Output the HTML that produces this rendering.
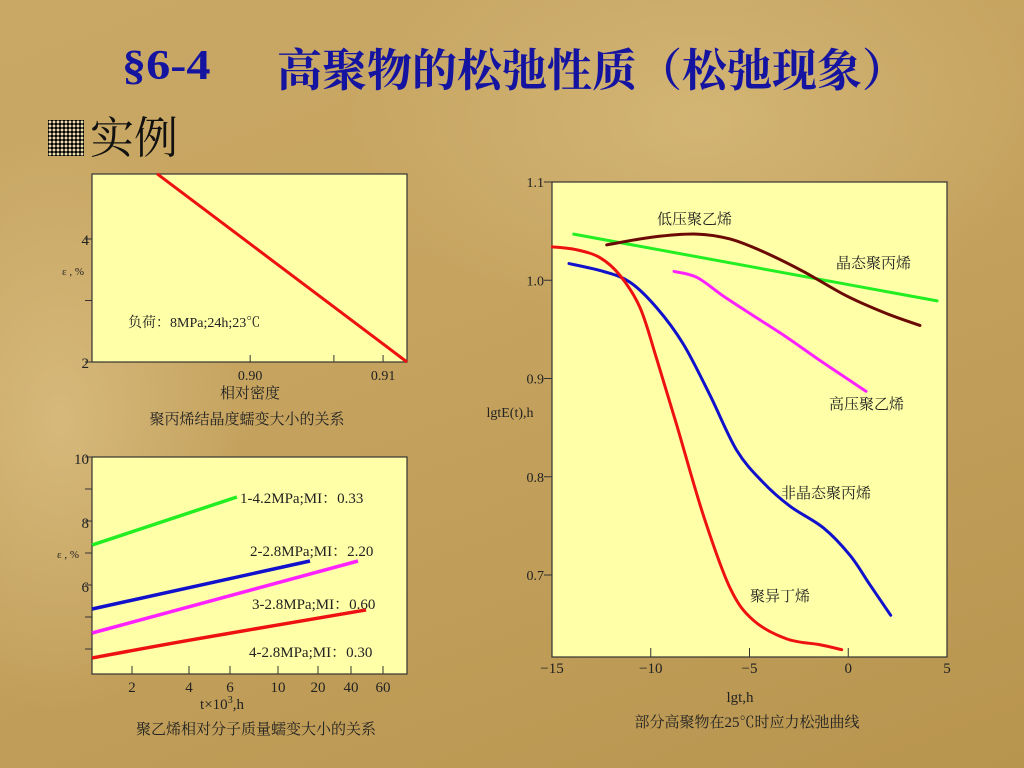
<!DOCTYPE html>
<html><head><meta charset="utf-8"><style>
html,body{margin:0;padding:0;}
body{width:1024px;height:768px;overflow:hidden;position:relative;
background:radial-gradient(ellipse 260px 420px at 60px 420px,rgba(230,205,150,0.5),rgba(0,0,0,0) 70%),
radial-gradient(ellipse 500px 300px at 700px 120px,rgba(225,200,140,0.45),rgba(0,0,0,0) 70%),
linear-gradient(160deg,#c9a865 0%,#c6a460 40%,#b8954f 100%);
font-family:"Liberation Serif","Noto Serif CJK SC",serif;}
.tt{position:absolute;top:36px;font-size:45px;font-weight:bold;color:#1414a0;white-space:nowrap;font-family:"Liberation Serif","Noto Serif CJK SC",serif;}
#sub{position:absolute;left:48px;top:102px;font-size:44px;color:#111;white-space:nowrap;}
#bullet{display:inline-block;width:36px;height:36px;vertical-align:-3px;margin-right:6px;
background-color:#000;background-image:radial-gradient(circle,#f0e0b0 1.3px,transparent 1.6px);background-size:4px 4px;}
svg{position:absolute;left:0;top:0;}
svg text{font-family:"Liberation Serif","Noto Serif CJK SC",serif;fill:#222;}
</style></head><body>
<div class="tt" style="left:122px;font-size:42px;top:42px;transform:scaleX(1.15);transform-origin:left">§6-4</div>
<div class="tt" style="left:277px;top:34px">高聚物的松弛性质（松弛现象）</div>
<div id="sub"><span id="bullet"></span>实例</div>
<svg id="svg" width="1024" height="768"></svg>
<script>
// ---------- Chart 1: PP density vs creep ----------
const c1Density=[0.8930,0.9118];
const c1Strain=[5.06,2.0];
const c1YTicks=[2,3,4];
const c1YLabels=["2","","4"];
const c1XTicks=[0.90,0.9063,0.91];
const c1XLabels=["0.90","","0.91"];
// ---------- Chart 2: PE creep vs time ----------
const c2TickT=[2,4,6,10,20,40,60];
const c2TickLabels=["2","4","6","10","20","40","60"];
const c2YTicks=[4,5,6,7,8,9,10];
const c2YLabels=["","","6","","8","","10"];
const c2S1T=[1.23,6.46], c2S1E=[7.25,8.75];
const c2S2T=[1.23,17.4], c2S2E=[5.25,6.75];
const c2S3T=[1.23,43.7], c2S3E=[4.5,6.75];
const c2S4T=[1.23,4.05,48.4], c2S4E=[3.72,4.28,5.22];
// ---------- Chart 3: stress relaxation ----------
const c3XTicks=[-15,-10,-5,0,5];
const c3XLabels=["−15","−10","−5","0","5"];
const c3YTicks=[0.7,0.8,0.9,1.0,1.1];
const c3YLabels=["0.7","0.8","0.9","1.0","1.1"];
const greenX=[-13.9,4.5], greenY=[1.047,0.979];
const brownX=[-12.23,-9.87,-7.67,-5.99,-4.30,-2.28,-0.08,1.95,3.63];
const brownY=[1.036,1.044,1.047,1.042,1.029,1.009,0.984,0.966,0.954];
const redX=[-14.98,-13.75,-12.57,-11.56,-10.54,-9.70,-8.69,-7.34,-5.99,-4.81,-3.12,-1.43,-0.33];
const redY=[1.034,1.031,1.023,1.005,0.972,0.920,0.853,0.761,0.687,0.654,0.635,0.629,0.624];
const blueX=[-14.14,-12.40,-11.05,-9.70,-8.35,-7.00,-5.65,-4.30,-2.95,-1.26,0.09,1.10,2.15];
const blueY=[1.017,1.009,0.998,0.972,0.935,0.883,0.827,0.794,0.770,0.748,0.720,0.690,0.659];
const magX=[-8.82,-7.67,-6.33,-4.81,-3.12,-1.26,0.90];
const magY=[1.009,1.003,0.984,0.964,0.942,0.916,0.887];

const svg=document.getElementById('svg');
const NS='http://www.w3.org/2000/svg';
function mk(tag,attrs,parent){const e=document.createElementNS(NS,tag);for(const k in attrs)e.setAttribute(k,attrs[k]);(parent||svg).appendChild(e);return e;}
function txt(x,y,s,size,anchor){const t=mk('text',{x:x,y:y,'font-size':size,'text-anchor':anchor||'start'});t.textContent=s;return t;}
function smooth(pts){if(pts.length<3)return 'M'+pts.map(p=>p[0].toFixed(1)+','+p[1].toFixed(1)).join(' L');
 let d='M'+pts[0][0]+','+pts[0][1];
 for(let i=0;i<pts.length-1;i++){const p0=pts[i-1]||pts[i],p1=pts[i],p2=pts[i+1],p3=pts[i+2]||p2;
  const c1=[p1[0]+(p2[0]-p0[0])/6,p1[1]+(p2[1]-p0[1])/6],c2=[p2[0]-(p3[0]-p1[0])/6,p2[1]-(p3[1]-p1[1])/6];
  d+=' C'+c1.join(',')+' '+c2.join(',')+' '+p2.join(',');}
 return d;}
function box(x,y,w,h,name){const r=mk('rect',{x:x,y:y,width:w,height:h,fill:'#ffffa8',stroke:'#333','stroke-width':1.2});}

// Chart 1
(function(){
 const L=92,R=407,T=174,B=362;
 const x=v=>L+(v-0.8881)/(0.9118-0.8881)*(R-L);
 const y=v=>B-(v-2)*61.5;
 box(L,T,R-L,B-T,'density-chart-plot');
 c1YTicks.forEach((v,i)=>{mk('line',{x1:L-7,x2:L,y1:y(v),y2:y(v),stroke:'#333'});if(c1YLabels[i]){const t=txt(L-3,y(v)+6,c1YLabels[i],15,'end');}});
 c1XTicks.forEach((v,i)=>{mk('line',{x1:x(v),x2:x(v),y1:B,y2:B-7,stroke:'#333'});if(c1XLabels[i]){const t=txt(x(v),B+18,c1XLabels[i],14,'middle');}});
 const p=mk('path',{d:smooth(c1Density.map((d,i)=>[x(d),y(c1Strain[i])])),stroke:'#ee1111','stroke-width':3,fill:'none'});
 
 let t=txt(73,275,'ε , %',11,'middle');
 t=txt(128,327,'负荷：8MPa;24h;23℃',14);
 t=txt(250,398,'相对密度',15,'middle');
 t=txt(247,424,'聚丙烯结晶度蠕变大小的关系',15,'middle');
})();

// Chart 2
(function(){
 const L=92,R=407,T=457,B=674;
 const tickPx=[132,189,230,278,318,351,383];
 const x=t=>{const lt=Math.log10(t),lv=c2TickT.map(Math.log10);
  if(lt<=lv[0])return tickPx[0]+(lt-lv[0])*189;
  for(let i=0;i<lv.length-1;i++)if(lt<=lv[i+1])return tickPx[i]+(lt-lv[i])/(lv[i+1]-lv[i])*(tickPx[i+1]-tickPx[i]);
  const n=lv.length-1;return tickPx[n]+(lt-lv[n])/(lv[n]-lv[n-1])*(tickPx[n]-tickPx[n-1]);};
 const y=v=>T+(10-v)*32;
 box(L,T,R-L,B-T,'time-chart-plot');
 c2YTicks.forEach((v,i)=>{mk('line',{x1:L-7,x2:L,y1:y(v),y2:y(v),stroke:'#333'});if(c2YLabels[i]){const t=txt(L-3,y(v)+7,c2YLabels[i],15,'end');}});
 c2TickT.forEach((v,i)=>{mk('line',{x1:x(v),x2:x(v),y1:B,y2:B-8,stroke:'#333'});const t=txt(x(v),B+18,c2TickLabels[i],15,'middle');});
 const ser=[[c2S1T,c2S1E,'#22ee22','series-1-line'],[c2S2T,c2S2E,'#1111cc','series-2-line'],[c2S3T,c2S3E,'#ff22ff','series-3-line'],[c2S4T,c2S4E,'#ee1111','series-4-line']];
 ser.forEach(s=>{const p=mk('path',{d:smooth(s[0].map((t,i)=>[x(t),y(s[1][i])])),stroke:s[2],'stroke-width':3.5,fill:'none'});});
 const labs=[[240,503,'1-4.2MPa;MI：0.33'],[250,556,'2-2.8MPa;MI：2.20'],[252,609,'3-2.8MPa;MI：0.60'],[249,657,'4-2.8MPa;MI：0.30']];
 labs.forEach(l=>{const t=txt(l[0],l[1],l[2],15);});
 let t=txt(68,558,'ε , %',11,'middle');
 t=mk('text',{x:222,y:709,'font-size':15,'text-anchor':'middle'});t.innerHTML='t×10<tspan font-size="10" dy="-6">3</tspan><tspan dy="6">,h</tspan>';
 t=txt(256,734,'聚乙烯相对分子质量蠕变大小的关系',15,'middle');
})();

// Chart 3
(function(){
 const L=552,R=947,T=182,B=657;
 const x=v=>L+(v+15)*19.75;
 const y=v=>T+(1.1-v)*982.5;
 box(L,T,R-L,B-T,'relaxation-chart-plot');
 c3YTicks.forEach((v,i)=>{mk('line',{x1:L-8,x2:L,y1:y(v),y2:y(v),stroke:'#333'});const t=txt(L-8,y(v)+5,c3YLabels[i],14,'end');});
 c3XTicks.forEach((v,i)=>{if(v>-15&&v<5)mk('line',{x1:x(v),x2:x(v),y1:B,y2:B-9,stroke:'#333'});const t=txt(x(v),B+16,c3XLabels[i],15,'middle');});
 const ser=[[greenX,greenY,'#22ee22','crystalline-pp-curve'],[brownX,brownY,'#6b0a05','hdpe-low-pressure-curve'],[magX,magY,'#ff22ff','ldpe-high-pressure-curve'],[blueX,blueY,'#1111cc','amorphous-pp-curve'],[redX,redY,'#ee1111','polyisobutylene-curve']];
 ser.forEach(s=>{const p=mk('path',{d:smooth(s[0].map((v,i)=>[x(v),y(s[1][i])])),stroke:s[2],'stroke-width':3,fill:'none','stroke-linecap':'round'});});
 const labs=[[657,224,'低压聚乙烯','label-hdpe'],[836,268,'晶态聚丙烯','label-crystalline-pp'],[829,409,'高压聚乙烯','label-ldpe'],[781,498,'非晶态聚丙烯','label-amorphous-pp'],[750,601,'聚异丁烯','label-polyisobutylene']];
 labs.forEach(l=>{const t=txt(l[0],l[1],l[2],15);});
 let t=txt(510,417,'lgtE(t),h',14,'middle');
 t=txt(740,702,'lgt,h',15,'middle');
 t=txt(747,727,'部分高聚物在25℃时应力松弛曲线',15,'middle');
})();
</script>
</body></html>
